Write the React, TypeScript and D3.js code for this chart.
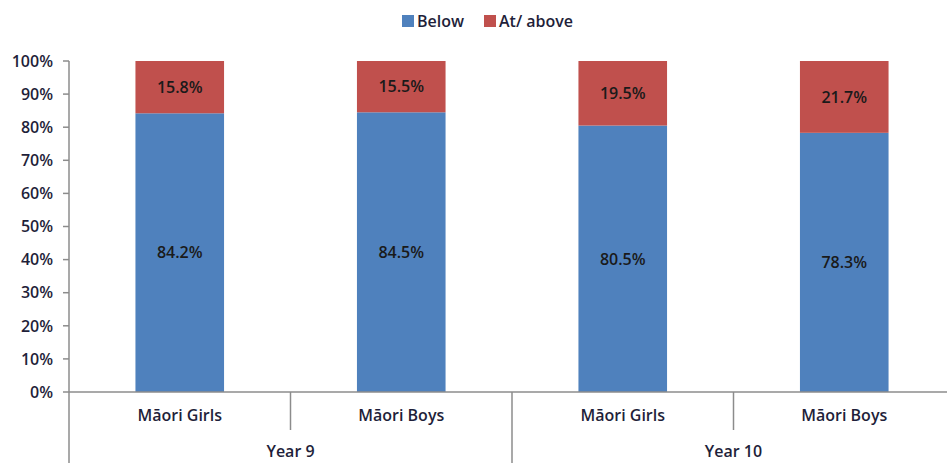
import { useMemo } from 'react';
import * as d3 from 'd3';

const categories = ['Y9 Girls', 'Y9 Boys', 'Y10 Girls', 'Y10 Boys'];
const categoryLabels = ['Māori Girls', 'Māori Boys', 'Māori Girls', 'Māori Boys'];
const years = ['Year 9', 'Year 10'];
const yearOf = [0, 0, 1, 1];
const below = [84.2, 84.5, 80.5, 78.3];
const atAbove = [15.8, 15.5, 19.5, 21.7];
const yTicks = [0, 10, 20, 30, 40, 50, 60, 70, 80, 90, 100];

const W = 947;
const H = 463;
const margin = { top: 61, left: 69, right: -8, bottom: 71 };
const BLUE = '#4F81BD';
const RED = '#C0504D';
const AXIS = '#8c8c8c';
const FONT = '"Open Sans", Lato, sans-serif';
const INK = '#1f1f3a';
const FS = 16;

export default function App() {
  const x = useMemo(
    () => d3.scaleBand<string>().domain(categories).range([margin.left, W - margin.right]).paddingInner(0.6).paddingOuter(0.3),
    []
  );
  const y = useMemo(() => d3.scaleLinear().domain([0, 100]).range([H - margin.bottom, margin.top]), []);

  const step = x.step();
  const bw = x.bandwidth();
  const base = y(0);
  const cellLeft = (i: number) => (x(categories[i]) ?? 0) - (step - bw) / 2;

  return (
    <svg width={W} height={H} style={{ position: 'absolute', left: 0, top: 0, fontFamily: FONT }}>
      <rect width={W} height={H} fill="white" />

      {/* legend */}
      <g fontSize={FS} fontWeight={600} fill={INK}>
        <rect x={402} y={15} width={12} height={12} fill={BLUE} />
        <text x={417} y={27}>Below</text>
        <rect x={484} y={15} width={12} height={12} fill={RED} />
        <text x={499} y={27}>At/ above</text>
      </g>

      {/* y axis */}
      <line x1={margin.left} x2={margin.left} y1={y(100)} y2={H} stroke={AXIS} strokeWidth={1.5} />
      {yTicks.map((t) => (
        <g key={t}>
          <line x1={margin.left - 6} x2={margin.left} y1={y(t)} y2={y(t)} stroke={AXIS} strokeWidth={1.5} />
          <text x={53} y={y(t)} dy="0.36em" textAnchor="end" fontSize={FS} fontWeight={600} fill={INK}>
            {t}%
          </text>
        </g>
      ))}

      {/* bars */}
      {categories.map((c, i) => {
        const bx = x(c) ?? 0;
        const yb = y(below[i]);
        const yt = y(below[i] + atAbove[i]);
        return (
          <g key={c}>
            <rect x={bx} y={yb} width={bw} height={base - yb} fill={BLUE} />
            <rect x={bx} y={yt} width={bw} height={yb - yt} fill={RED} />
            <text x={bx + bw / 2} y={(base + yb) / 2} dy="0.36em" textAnchor="middle" fontSize={FS} fontWeight={600} fill="#1a1a1a">
              {below[i].toFixed(1)}%
            </text>
            <text x={bx + bw / 2} y={(yb + yt) / 2} dy="0.36em" textAnchor="middle" fontSize={FS} fontWeight={600} fill="#1a1a1a">
              {atAbove[i].toFixed(1)}%
            </text>
          </g>
        );
      })}

      {/* x axis */}
      <line x1={margin.left} x2={W} y1={base} y2={base} stroke={AXIS} strokeWidth={1.5} />
      {categories.map((c, i) => {
        if (i === 0) return null;
        const newYear = yearOf[i] !== yearOf[i - 1];
        const lx = cellLeft(i);
        return <line key={c} x1={lx} x2={lx} y1={base} y2={newYear ? H : base + 38} stroke={AXIS} strokeWidth={1.5} />;
      })}
      {categories.map((c, i) => (
        <text key={c} x={(x(c) ?? 0) + bw / 2} y={421} textAnchor="middle" fontSize={FS} fontWeight={600} fill={INK}>
          {categoryLabels[i]}
        </text>
      ))}
      {years.map((yr, k) => {
        const idx = categories.map((_, i) => i).filter((i) => yearOf[i] === k);
        const left = cellLeft(idx[0]);
        const right = cellLeft(idx[idx.length - 1]) + step;
        return (
          <text key={yr} x={(left + right) / 2} y={457} textAnchor="middle" fontSize={FS} fontWeight={600} fill={INK}>
            {yr}
          </text>
        );
      })}
    </svg>
  );
}
